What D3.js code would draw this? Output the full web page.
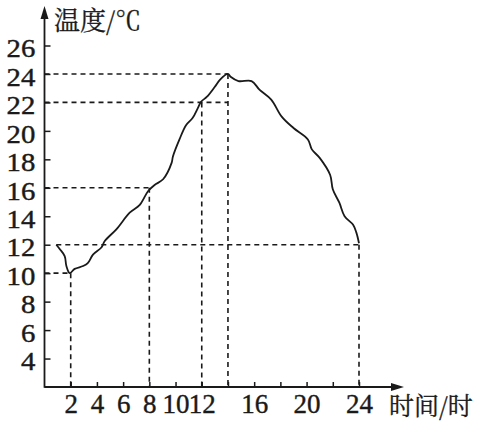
<!DOCTYPE html>
<html><head><meta charset="utf-8">
<script src="https://cdn.jsdelivr.net/npm/d3@7"></script>
<style>html,body{margin:0;padding:0;background:#fff;}
.num{font-family:"Liberation Serif","Times New Roman","DejaVu Serif",serif;stroke:#1a1a1a;stroke-width:0.4px;}
.cjk{font-family:"Noto Serif CJK SC","Noto Sans CJK SC",serif;stroke:#1a1a1a;stroke-width:0.3px;}
</style>
</head><body>
<svg id="c" width="485" height="422"></svg>
<script>
// ---- data ----
const hours = [0.9,1.16,1.54,1.67,1.92,2.3,2.94,3.3,3.7,4.34,4.6,5.5,6.5,7.27,7.9,8.4,9.05,9.7,9.8,10.3,10.8,11.3,11.7,11.95,12.4,13,13.4,14,14.2,14.8,15.8,16.4,17.3,18.1,19,20.1,20.4,21,21.8,22.0,22.5,22.9,23.55,23.8,24];
const temps = [12,11.7,11.2,10.5,10.0,10.3,10.5,10.7,11.3,11.8,12.26,13.1,14.25,14.8,15.76,16.2,16.6,17.75,18.2,19.4,20.4,20.9,21.6,22.05,22.4,23.1,23.6,24,23.8,23.5,23.5,22.9,22.2,21,20.2,19.4,18.7,18.1,16.9,15.9,14.95,14,13.4,12.85,12.1];
const xTicks = [2,4,6,8,10,12,14,16,18,20,22,24];
const xLabels = [2,4,6,8,10,12,16,20,24];
const yTicks = [4,6,8,10,12,14,16,18,20,22,24,26];
// reference (dashed) lines: [temperature, hour start, hour end]
const hRefs = [[10,0,2],[16,0,8],[22,0,14],[24,0,14],[12,0.9,24]];
// vertical dashed: [hour, temperature]
const vRefs = [[2,10],[8,16],[12,22],[14,24],[24,12]];
const yTitle = "温度/℃";
const xTitle = "时间/时";

// ---- chart ----
const svg = d3.select("#c");
const x = d3.scaleLinear().domain([0,24]).range([44.5,359]);
const y = d3.scaleLinear().domain([2,26]).range([387,45.5]);
const ink = "#1a1a1a";

// dashed reference lines
svg.append("g").selectAll("line").data(hRefs).join("line")
  .attr("x1", d => x(d[1])).attr("x2", d => x(d[2]))
  .attr("y1", d => y(d[0])).attr("y2", d => y(d[0]))
  .attr("stroke", ink).attr("stroke-width", 1.6).attr("stroke-dasharray", "5,4");
svg.append("g").selectAll("line").data(vRefs).join("line")
  .attr("x1", d => x(d[0])).attr("x2", d => x(d[0]))
  .attr("y1", d => y(d[1])).attr("y2", y(2))
  .attr("stroke", ink).attr("stroke-width", 1.6).attr("stroke-dasharray", "5,4");

// curve
const pts = hours.map((h,i) => [h, temps[i]]);
svg.append("path").datum(pts)
  .attr("d", d3.line().x(d => x(d[0])).y(d => y(d[1])).curve(d3.curveCatmullRom.alpha(0.5)))
  .attr("fill","none").attr("stroke", ink).attr("stroke-width", 1.8);

// y axis
const ya = svg.append("g").attr("transform", `translate(${x(0)},0)`)
  .call(d3.axisLeft(y).tickValues(yTicks).tickSizeInner(-6).tickSizeOuter(0).tickPadding(8));
ya.attr("font-family", null).attr("font-size", null);
ya.select(".domain").remove();
ya.selectAll("line").attr("stroke", ink).attr("stroke-width", 1.5);
ya.selectAll("text").attr("class", "num").style("font-size", "25px").attr("fill", ink)
  .attr("dy", "0.45em").attr("transform", "scale(1.15,1)");

// x axis
const xa = svg.append("g").attr("transform", `translate(0,${y(2)})`)
  .call(d3.axisBottom(x).tickValues(xTicks).tickSizeInner(-5).tickSizeOuter(0).tickPadding(26)
    .tickFormat(d => xLabels.includes(d) ? d : ""));
xa.attr("font-family", null).attr("font-size", null);
xa.select(".domain").remove();
xa.selectAll("line").attr("stroke", ink).attr("stroke-width", 1.5);
xa.selectAll("text").attr("class", "num").style("font-size", "27px").attr("fill", ink).attr("dy", 0);

// axis lines with arrows
const x0 = x(0), yb = y(2);
svg.append("line").attr("x1", x0).attr("x2", x0).attr("y1", yb + 0.8).attr("y2", 14)
  .attr("stroke", ink).attr("stroke-width", 1.8);
svg.append("path").attr("d", `M${x0},6 L${x0-4},19 L${x0+4},19 Z`).attr("fill", ink);
svg.append("line").attr("x1", x0).attr("x2", 396).attr("y1", yb).attr("y2", yb)
  .attr("stroke", ink).attr("stroke-width", 1.8);
svg.append("path").attr("d", `M404,${yb} L391,${yb-4} L391,${yb+4} Z`).attr("fill", ink);

// titles
svg.append("text").attr("class", "cjk").attr("x", 54).attr("y", 30).style("font-size", "26px")
  .attr("fill", ink).text(yTitle);
svg.append("text").attr("class", "cjk").attr("x", 389).attr("y", 415).style("font-size", "25px")
  .attr("fill", ink).text(xTitle);
</script>
</body></html>
